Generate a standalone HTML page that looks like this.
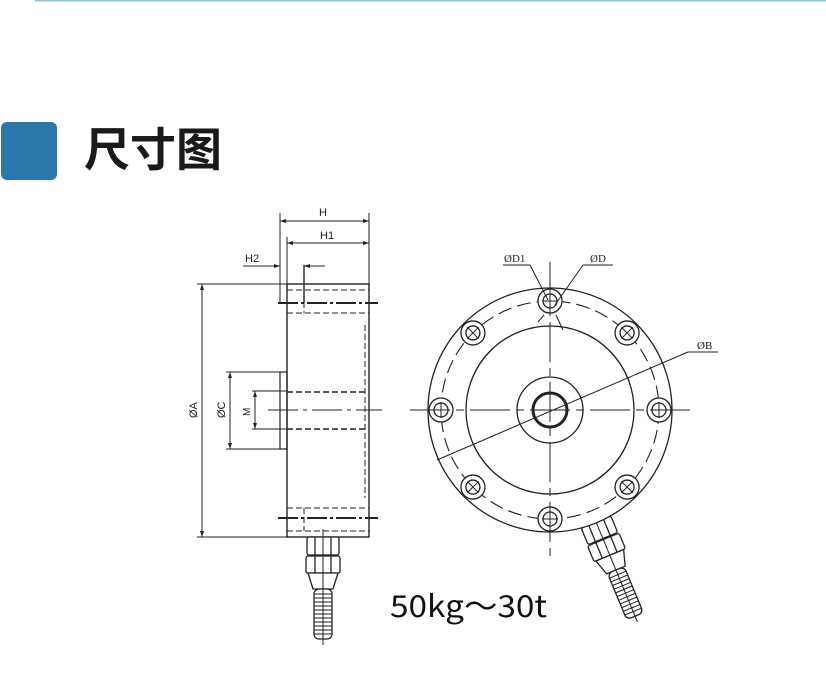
<!DOCTYPE html>
<html><head><meta charset="utf-8"><style>
html,body{margin:0;padding:0;background:#fff;width:826px;height:681px;overflow:hidden}
</style></head><body>
<svg width="826" height="681" viewBox="0 0 826 681" xmlns="http://www.w3.org/2000/svg" font-family="Liberation Sans, sans-serif">
<defs>
<g id="conn" fill="#fff" stroke="#222" stroke-width="1.3">
  <rect x="-16" y="0" width="32" height="18" rx="2"/>
  <line x1="-8" y1="0" x2="-8" y2="18"/><line x1="8" y1="0" x2="8" y2="18"/>
  <rect x="-17" y="19" width="34" height="17" rx="2"/>
  <line x1="-8" y1="19" x2="-8" y2="36"/><line x1="8" y1="19" x2="8" y2="36"/>
  <path d="M-15 36 L15 36 L10 52 L-10 52 Z"/>
  <rect x="-9" y="52" width="18" height="50" rx="5"/>
  <g stroke-width="1">
  <line x1="-9" y1="57" x2="9" y2="57"/><line x1="-9" y1="61" x2="9" y2="61"/><line x1="-9" y1="65" x2="9" y2="65"/><line x1="-9" y1="69" x2="9" y2="69"/><line x1="-9" y1="73" x2="9" y2="73"/><line x1="-9" y1="77" x2="9" y2="77"/><line x1="-9" y1="81" x2="9" y2="81"/><line x1="-9" y1="85" x2="9" y2="85"/><line x1="-9" y1="89" x2="9" y2="89"/><line x1="-9" y1="93" x2="9" y2="93"/><line x1="-9" y1="97" x2="9" y2="97"/>
  </g>
  <line x1="0" y1="-8" x2="0" y2="108" stroke-width="1"/>
</g>
</defs>
<line x1="35" y1="0.5" x2="826" y2="0.5" stroke="#8fc3dd" stroke-width="2"/>
<rect x="1" y="122" width="56" height="58" rx="6" fill="#2a78ab"/>
<text x="84" y="166" font-size="46" font-weight="bold" fill="#1a1a1a" font-family="Liberation Sans, Noto Sans CJK SC, sans-serif">尺寸图</text>

<!-- LEFT VIEW -->
<g stroke="#222" fill="none" stroke-width="1">
  <rect x="287" y="284" width="82" height="253" stroke-width="1.4"/>
  <rect x="280" y="372" width="7" height="77" stroke-width="1.2"/>
  <line x1="280" y1="213" x2="280" y2="303"/>
  <line x1="369" y1="213" x2="369" y2="284"/>
  <line x1="287" y1="237" x2="287" y2="284"/>
  <line x1="280" y1="221" x2="369" y2="221"/>
  <line x1="287" y1="243" x2="369" y2="243"/>
  <line x1="243" y1="266" x2="280" y2="266"/>
  <line x1="304" y1="266" x2="325" y2="266"/>
  <line x1="304" y1="265" x2="304" y2="303" stroke-width="1.4"/>
  <line x1="197" y1="284" x2="287" y2="284"/>
  <line x1="197" y1="537" x2="287" y2="537"/>
  <line x1="202" y1="284" x2="202" y2="537"/>
  <line x1="226" y1="372" x2="280" y2="372"/>
  <line x1="226" y1="449" x2="280" y2="449"/>
  <line x1="230" y1="372" x2="230" y2="449"/>
  <line x1="252" y1="391" x2="287" y2="391"/>
  <line x1="252" y1="429" x2="287" y2="429"/>
  <line x1="255" y1="391" x2="255" y2="429"/>
  <g stroke-dasharray="6,3">
    <line x1="287" y1="290" x2="369" y2="290"/><line x1="287" y1="313" x2="369" y2="313"/>
    <line x1="287" y1="392" x2="365" y2="392" stroke-width="1.5"/><line x1="287" y1="429" x2="365" y2="429" stroke-width="1.5"/>
    <line x1="365" y1="325" x2="365" y2="498"/>
    <line x1="287" y1="508" x2="369" y2="508"/><line x1="287" y1="531" x2="369" y2="531"/>
    <line x1="304" y1="284" x2="304" y2="313"/><line x1="304" y1="508" x2="304" y2="531"/>
  </g>
  <line x1="278" y1="303" x2="378" y2="303" stroke-width="2" stroke-dasharray="20,3,3,3"/>
  <line x1="278" y1="518" x2="378" y2="518" stroke-width="2" stroke-dasharray="20,3,3,3"/>
  <line x1="268" y1="410" x2="382" y2="410" stroke-dasharray="30,5,4,5"/>
</g>
<g fill="#222">
  <path d="M280 221 l6 -2 v4 z M369 221 l-6 -2 v4 z M287 243 l6 -2 v4 z M369 243 l-6 -2 v4 z M280 266 l-6 -2 v4 z M304 266 l6 -2 v4 z M202 284 l-2 6 h4 z M202 537 l-2 -6 h4 z M230 372 l-2 6 h4 z M230 449 l-2 -6 h4 z M255 391 l-2 6 h4 z M255 429 l-2 -6 h4 z"/>
</g>
<g font-size="11" fill="#222">
  <text x="319" y="216">H</text>
  <text x="320" y="239">H1</text>
  <text x="245" y="262">H2</text>
  <text transform="translate(197,418) rotate(-90)">ØA</text>
  <text transform="translate(225,418) rotate(-90)">ØC</text>
  <text transform="translate(250,416) rotate(-90)" font-size="10">M</text>
</g>
<use href="#conn" transform="translate(323,537)"/>

<!-- RIGHT VIEW -->
<use href="#conn" transform="translate(596,522) rotate(-22.5)"/>
<g stroke="#222" fill="none" stroke-width="1.3">
  <circle cx="550" cy="410" r="122" fill="#fff"/>
  <circle cx="550" cy="410" r="84"/>
  <circle cx="550" cy="410" r="109" stroke-dasharray="14,6" stroke-width="1.1"/>
  <circle cx="550" cy="410" r="33"/>
  <circle cx="550" cy="410" r="17" stroke-width="3"/>
  <g id="h">
    <circle cx="550" cy="301" r="12" fill="#fff"/>
    <circle cx="550" cy="301" r="7"/>
    <line x1="550" y1="293" x2="550" y2="309" stroke-width="1"/>
    <line x1="542" y1="301" x2="558" y2="301" stroke-width="1"/>
  </g>
  <use href="#h" transform="rotate(45 550 410)"/>
  <use href="#h" transform="rotate(90 550 410)"/>
  <use href="#h" transform="rotate(135 550 410)"/>
  <use href="#h" transform="rotate(180 550 410)"/>
  <use href="#h" transform="rotate(225 550 410)"/>
  <use href="#h" transform="rotate(270 550 410)"/>
  <use href="#h" transform="rotate(315 550 410)"/>
  <g stroke-width="1">
  <line x1="550" y1="262" x2="550" y2="556" stroke-dasharray="40,6,8,6"/>
  <line x1="410" y1="410" x2="695" y2="410" stroke-dasharray="40,6,8,6"/>
  <line x1="437" y1="460" x2="688" y2="352"/>
  <line x1="688" y1="352" x2="718" y2="352"/>
  <line x1="503" y1="265" x2="530" y2="265"/>
  <line x1="530" y1="265" x2="548" y2="300"/>
  <line x1="583" y1="265" x2="613" y2="265"/>
  <line x1="583" y1="265" x2="555" y2="305"/>
  <line x1="544" y1="315" x2="538" y2="322"/><line x1="556" y1="315" x2="563" y2="330"/>
  </g>
</g>
<g font-size="11" fill="#222" font-family="Liberation Serif, serif">
  <text x="504" y="262">ØD1</text>
  <text x="590" y="262">ØD</text>
  <text x="697" y="349">ØB</text>
</g>
<text x="390" y="617" font-size="30" fill="#111" textLength="157" lengthAdjust="spacingAndGlyphs" font-family="Noto Sans CJK SC, sans-serif">50kg～30t</text>
</svg>
</body></html>
